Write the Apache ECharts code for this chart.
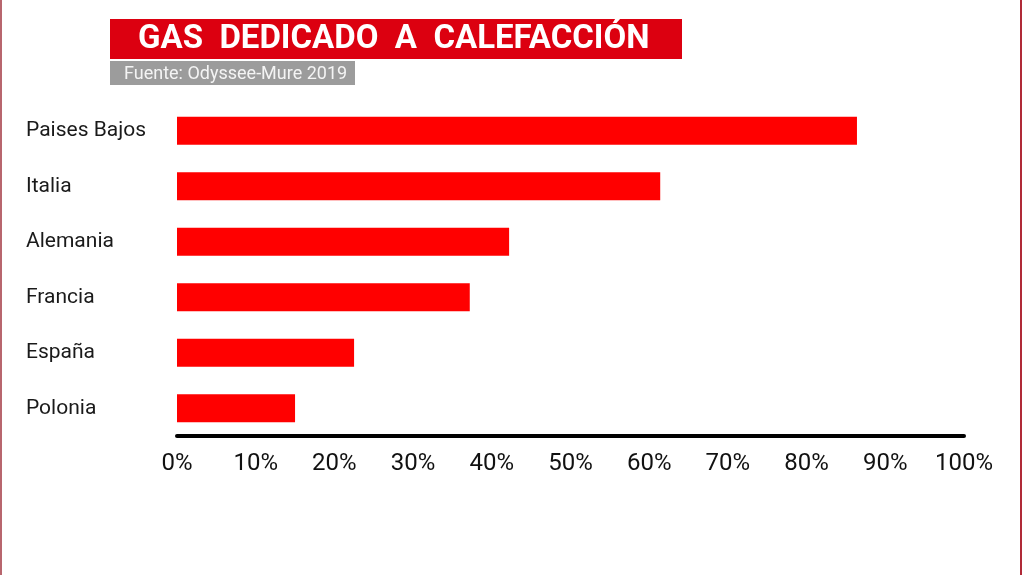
<!DOCTYPE html>
<html>
<head>
<meta charset="utf-8">
<script src="https://cdn.jsdelivr.net/npm/echarts@6/dist/echarts.min.js"></script>
<style>
  html, body { margin: 0; padding: 0; background: #fff; }
  .view01 { width: 1024px; height: 575px; }
</style>
</head>
<body>
<div class="view01"></div>
<script>
// datos
const paises = ['Paises Bajos', 'Italia', 'Alemania', 'Francia', 'España', 'Polonia'];
const gasCalefaccion = [86.4, 61.4, 42.2, 37.2, 22.5, 15.0];
const titulo = 'GAS  DEDICADO  A  CALEFACCIÓN';
const fuente = 'Fuente: Odyssee-Mure 2019';

window.onload = function () {
  echart01();

  // gas dedicado a calefaccion
  function echart01() {
    // 1、初始化
    let view1 = document.querySelector('.view01');
    let chart1 = echarts.init(view1);
    // 2、参数
    let option1 = {
      backgroundColor: '#fff',
      animation: false,
      grid: {
        left: 177,
        right: 60,
        top: 103,
        bottom: 139
      },
      xAxis: {
        type: 'value',
        min: 0,
        max: 100,
        interval: 10,
        axisLine: {
          show: true,
          lineStyle: { color: '#000', width: 4 }
        },
        axisTick: { show: false },
        splitLine: { show: false },
        axisLabel: {
          formatter: '{value}%',
          color: '#111',
          fontSize: 24,
          fontFamily: 'Roboto',
          margin: 16
        }
      },
      yAxis: {
        type: 'category',
        inverse: true,
        data: paises,
        axisLine: { show: false },
        axisTick: { show: false },
        axisLabel: {
          align: 'left',
          margin: 151,
          color: '#1a1a1a',
          fontSize: 21,
          fontFamily: 'Roboto'
        }
      },
      series: [
        {
          type: 'bar',
          data: gasCalefaccion,
          barWidth: 28,
          itemStyle: { color: '#ff0000' }
        }
      ],
      graphic: [
        // bordes
        { type: 'rect', left: 0, top: 0, shape: { width: 2, height: 575 }, style: { fill: '#b8666e' } },
        { type: 'rect', left: 1020, top: 0, shape: { width: 2, height: 575 }, style: { fill: '#b02a38' } },
        // titulo
        { type: 'rect', left: 110, top: 19, shape: { width: 572, height: 40 }, style: { fill: '#dc0010' } },
        {
          type: 'text', x: 138, y: 40,
          style: {
            text: titulo, fill: '#fff',
            verticalAlign: 'middle',
            font: 'bold 33px Roboto'
          }
        },
        { type: 'rect', left: 110, top: 61, shape: { width: 245, height: 24 }, style: { fill: '#9c9c9c' } },
        {
          type: 'text', x: 124, y: 74,
          style: {
            text: fuente, fill: '#f4f4f4',
            verticalAlign: 'middle',
            font: '18px Roboto'
          }
        }
      ]
    };
    // 3、设置参数
    chart1.setOption(option1);
  }
};
</script>
</body>
</html>
